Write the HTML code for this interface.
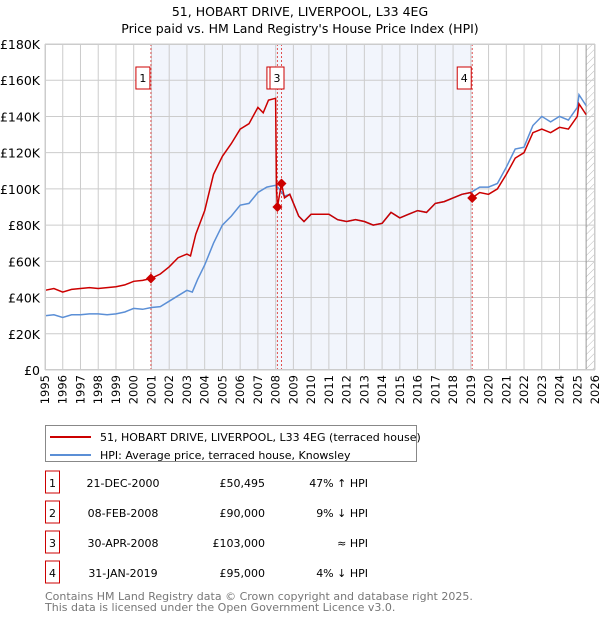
<!DOCTYPE html>
<html><head><meta charset="utf-8"><style>
body{margin:0;background:#fff;font-family:"Liberation Sans","DejaVu Sans",sans-serif;}
svg text{font-family:"DejaVu Sans","Liberation Sans",sans-serif;}
</style></head><body>
<svg id="c" width="600" height="620" xmlns="http://www.w3.org/2000/svg">
<text x="300" y="16" text-anchor="middle" font-size="12.5">51, HOBART DRIVE, LIVERPOOL, L33 4EG</text>
<text x="300" y="33" text-anchor="middle" font-size="12.5">Price paid vs. HM Land Registry's House Price Index (HPI)</text>
<g id="plot"></g>
<rect x="45.5" y="425.5" width="371" height="36" fill="#fff" stroke="#888"/>
<line x1="50" y1="437" x2="91" y2="437" stroke="#cc0000" stroke-width="2"/>
<text x="100" y="441" font-size="11">51, HOBART DRIVE, LIVERPOOL, L33 4EG (terraced house)</text>
<line x1="50" y1="455" x2="91" y2="455" stroke="#5b8fd6" stroke-width="2"/>
<text x="100" y="459" font-size="11">HPI: Average price, terraced house, Knowsley</text>
<g id="tbl" font-size="11"></g>
<text x="45" y="600" font-size="11" fill="#777">Contains HM Land Registry data © Crown copyright and database right 2025.</text>
<text x="45" y="611" font-size="11" fill="#777">This data is licensed under the Open Government Licence v3.0.</text>
</svg>
<script>
const yearTicks=[1995,1996,1997,1998,1999,2000,2001,2002,2003,2004,2005,2006,2007,2008,2009,2010,2011,2012,2013,2014,2015,2016,2017,2018,2019,2020,2021,2022,2023,2024,2025,2026];
const valueTicks=[0,20000,40000,60000,80000,100000,120000,140000,160000,180000];
const valueTickLabels=["£0","£20K","£40K","£60K","£80K","£100K","£120K","£140K","£160K","£180K"];
const hpiDates=[1995,1995.5,1996,1996.5,1997,1997.5,1998,1998.5,1999,1999.5,2000,2000.5,2001,2001.5,2002,2002.5,2003,2003.3,2003.6,2004,2004.5,2005,2005.5,2006,2006.5,2007,2007.5,2008,2008.2,2008.5,2008.8,2009.3,2009.6,2010,2010.5,2011,2011.5,2012,2012.5,2013,2013.5,2014,2014.5,2015,2015.5,2016,2016.5,2017,2017.5,2018,2018.5,2019,2019.5,2020,2020.5,2021,2021.5,2022,2022.5,2023,2023.5,2024,2024.5,2025,2025.1,2025.5];
const hpiValues=[30000,30500,29000,30500,30500,31000,31000,30500,31000,32000,34000,33500,34500,35000,38000,41000,44000,43000,50000,58000,70000,80000,85000,91000,92000,98000,101000,102000,100000,96000,97000,85000,82000,86000,86000,86000,83000,82000,83000,82000,80000,81000,87000,84000,86000,88000,87000,92000,93000,95000,97000,98000,101000,101000,103000,112000,122000,123000,135000,140000,137000,140000,138000,145000,152000,146000];
const priceDates=[1995,1995.5,1996,1996.5,1997,1997.5,1998,1998.5,1999,1999.5,2000,2000.5,2000.97,2001.5,2002,2002.5,2003,2003.2,2003.5,2004,2004.5,2005,2005.5,2006,2006.5,2007,2007.3,2007.6,2008,2008.05,2008.1,2008.33,2008.5,2008.8,2009.3,2009.6,2010,2010.5,2011,2011.5,2012,2012.5,2013,2013.5,2014,2014.5,2015,2015.5,2016,2016.5,2017,2017.5,2018,2018.5,2019,2019.08,2019.5,2020,2020.5,2021,2021.5,2022,2022.5,2023,2023.5,2024,2024.5,2025,2025.1,2025.5];
const priceValues=[44000,45000,43000,44500,45000,45500,45000,45500,46000,47000,49000,49500,50495,53000,57000,62000,64000,63000,75000,88000,108000,118000,125000,133000,136000,145000,142000,149000,150000,100000,90000,103000,95000,97000,85000,82000,86000,86000,86000,83000,82000,83000,82000,80000,81000,87000,84000,86000,88000,87000,92000,93000,95000,97000,98000,95000,98000,97000,100000,108000,117000,120000,131000,133000,131000,134000,133000,140000,147000,141000];
const saleIds=["1","2","3","4"];
const saleDates=[2000.97,2008.1,2008.33,2019.08];
const saleValues=[50495,90000,103000,95000];
const saleDateLabels=["21-DEC-2000","08-FEB-2008","30-APR-2008","31-JAN-2019"];
const salePriceLabels=["£50,495","£90,000","£103,000","£95,000"];
const saleHpiLabels=["47% ↑ HPI","9% ↓ HPI","≈ HPI","4% ↓ HPI"];

const NS="http://www.w3.org/2000/svg";
const X0=45,X1=595,Y0=370,Y1=44;
const xs=d=>X0+(d-1995)/(2026-1995)*(X1-X0);
const ys=v=>Y0-v/180000*(Y0-Y1);
const plot=document.getElementById('plot');
function mk(tag,attrs,parent){const e=document.createElementNS(NS,tag);for(const k in attrs)e.setAttribute(k,attrs[k]);(parent||plot).appendChild(e);return e;}
let e;
e=mk('rect',{x:xs(saleDates[0]),y:Y1,width:xs(saleDates[3])-xs(saleDates[0]),height:Y0-Y1,fill:'#f2f5fc'});


const defs=mk('defs',{});
const pat=mk('pattern',{id:'h',width:5,height:5,patternUnits:'userSpaceOnUse',patternTransform:'rotate(45)'},defs);
mk('line',{x1:0,y1:0,x2:0,y2:5,stroke:'#bbb','stroke-width':1},pat);
e=mk('rect',{x:xs(2025.5),y:Y1,width:X1-xs(2025.5),height:Y0-Y1,fill:'url(#h)'});


yearTicks.forEach(y=>{
  e=mk('line',{x1:xs(y),x2:xs(y),y1:Y1,y2:Y0,stroke:'#ccc','stroke-width':1});
  
  
  const t=mk('text',{x:0,y:0,'font-size':11.5,'text-anchor':'end',transform:`translate(${xs(y)+4},${Y0+5}) rotate(-90)`});
  t.textContent=y;
  
  
});
valueTicks.forEach((v,i)=>{
  e=mk('line',{x1:X0,x2:X1,y1:ys(v),y2:ys(v),stroke:'#ccc','stroke-width':1});
  
  
  const t=mk('text',{x:X0-5,y:ys(v)+5,'font-size':12.5,'text-anchor':'end'});
  t.textContent=valueTickLabels[i];
  
  
});
e=mk('line',{x1:xs(2025.5),x2:xs(2025.5),y1:Y1,y2:Y0,stroke:'#999','stroke-width':1});


saleDates.forEach(d=>{
  e=mk('line',{x1:xs(d),x2:xs(d),y1:Y1,y2:Y0,stroke:'#e05050','stroke-width':1,'stroke-dasharray':'2,2'});
  
  
});
const path=(ds,vs)=>ds.map((d,i)=>(i?'L':'M')+xs(d).toFixed(1)+','+ys(vs[i]).toFixed(1)).join('');
e=mk('path',{d:path(hpiDates,hpiValues),fill:'none',stroke:'#5b8fd6','stroke-width':1.5});


e=mk('path',{d:path(priceDates,priceValues),fill:'none',stroke:'#cc0000','stroke-width':1.5});


saleDates.forEach((d,i)=>{
  const x=xs(d),y=ys(saleValues[i]);
  e=mk('path',{d:`M${x},${y-5}L${x+5},${y}L${x},${y+5}L${x-5},${y}Z`,fill:'#cc0000'});
  
  
});
const boxOffsets=[-15,-10.5,-11.5,-15];
saleDates.forEach((d,i)=>{
  const x=xs(d);
  const g=mk('g',{});
  
  
  const bx=x+boxOffsets[i];
  mk('rect',{x:bx,y:67,width:14,height:22,fill:'#fff',stroke:'#cc0000'},g);
  const t=mk('text',{x:bx+7,y:82,'font-size':11,'text-anchor':'middle'},g);t.textContent=saleIds[i];
});
mk('rect',{x:X0+0.5,y:Y1+0.5,width:X1-X0-1,height:Y0-Y1-1,fill:'none',stroke:'#ccc'});
const tbl=document.getElementById('tbl');
saleIds.forEach((id,i)=>{
  const y=483+i*30;
  const g=mk('g',{},tbl);
  
  
  mk('rect',{x:45.5,y:y-12,width:14,height:22,fill:'#fff',stroke:'#cc0000'},g);
  let t=mk('text',{x:52.5,y:y+4,'text-anchor':'middle'},g);t.textContent=id;
  t=mk('text',{x:123,y:y+4,'text-anchor':'middle'},g);t.textContent=saleDateLabels[i];
  t=mk('text',{x:265,y:y+4,'text-anchor':'end'},g);t.textContent=salePriceLabels[i];
  t=mk('text',{x:368,y:y+4,'text-anchor':'end'},g);t.textContent=saleHpiLabels[i];
});
</script>
</body></html>
